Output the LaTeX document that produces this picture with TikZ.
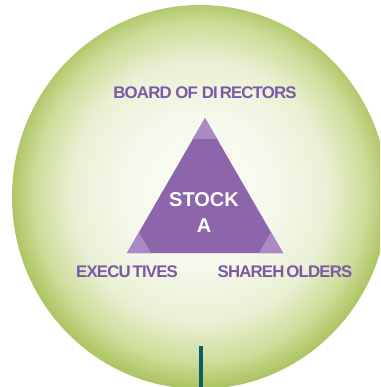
\documentclass[tikz,border=0pt]{standalone}
\usepackage{fontspec}
\setmainfont{Liberation Sans}
\newfontfamily\labfont[LetterSpace=-5]{Liberation Sans}
\usetikzlibrary{calc}
\definecolor{edgegreen}{RGB}{174,198,102}
\definecolor{ballcA}{RGB}{252,252,247}
\definecolor{ballcB}{RGB}{246,248,236}
\definecolor{ballcC}{RGB}{234,240,212}
\definecolor{ballcD}{RGB}{206,221,154}
\definecolor{tripurple}{RGB}{140,101,170}
\definecolor{cornerpurple}{RGB}{170,137,197}
\definecolor{labpurple}{RGB}{122,90,166}
\definecolor{stemteal}{RGB}{12,94,100}
\pgfdeclareradialshading{ballshade}{\pgfpoint{0bp}{1bp}}{color(0bp)=(ballcA); color(10bp)=(ballcB); color(17bp)=(ballcC); color(22bp)=(ballcD); color(25bp)=(edgegreen); color(50bp)=(edgegreen)}
\tikzset{
  lab/.style={text=labpurple, font=\labfont\bfseries\fontsize{16.8}{18}\selectfont, inner sep=0pt, anchor=base},
  stocklab/.style={text=white, font=\bfseries\fontsize{20}{26}\selectfont, align=center, inner sep=0pt, anchor=north},
  corner/.style={fill=cornerpurple, draw=none}
}
\begin{document}
\begin{tikzpicture}[x=1pt,y=-1pt]
\useasboundingbox (0,0) rectangle (380,387);
\begin{scope}
  \clip (0,0) rectangle (380,387);
  \shade[shading=ballshade] (200,197) ellipse [x radius=188pt, y radius=192pt];
\end{scope}
% triangle
\coordinate (top) at (205,118);
\coordinate (bl) at (127,253);
\coordinate (br) at (283,253);
\fill[tripurple] (top) -- (bl) -- (br) -- cycle;
\fill[corner] (top) -- ($(top)!24pt!(bl)$) -- ($(top)!24pt!(br)$) -- cycle;
\fill[corner] (bl) -- ($(bl)!24pt!(top)$) -- ($(bl)!24pt!(br)$) -- cycle;
\fill[corner] (br) -- ($(br)!24pt!(top)$) -- ($(br)!24pt!(bl)$) -- cycle;
\node[stocklab] (stock) at (204,192) {STOCK\\A};
% labels
\node[lab] (board) at (205,99) {BOARD OF DI\kern2pt RECTORS};
\node[lab] (exec) at (127,277) {EXECU\kern2pt TIVES};
\node[lab] (share) at (285,277) {SHAREH\kern2pt OLDERS};
% stem
\coordinate (stemtop) at (201,346);
\coordinate (stembot) at (201,388);
\draw[stemteal, line width=4pt] (stemtop) -- (stembot);
\end{tikzpicture}
\end{document}
